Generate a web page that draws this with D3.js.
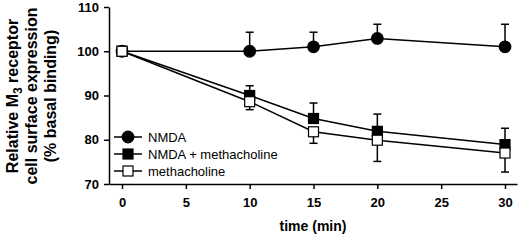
<!DOCTYPE html>
<html>
<head>
<meta charset="utf-8">
<script src="https://cdn.jsdelivr.net/npm/d3@7"></script>
<style>
  body { margin: 0; background: #fff; }
  text { font-family: Arial, "Liberation Sans", sans-serif; }
</style>
</head>
<body>
<div id="chart"></div>
<script>
const W = 520, H = 240;
const margin = { left: 109, right: 3, top: 7, bottom: 56 };

const times = [0, 10, 15, 20, 30];
const nmda = [100, 100, 101, 102.9, 101];
const nmdaErr = [0, 4.3, 3.3, 3.2, 5.1];
const nmdaMetha = [100, 90, 84.8, 81.9, 78.9];
const nmdaMethaErr = [0, 2.2, 3.5, 3.9, 3.7];
const metha = [100, 88.6, 81.8, 79.9, 77];
const methaErr = [0, 1.8, 2.6, 4.8, 4.3];

const xTicks = [0, 5, 10, 15, 20, 25, 30];
const yTicks = [70, 80, 90, 100, 110];

const series = [
  { name: "NMDA", values: nmda, err: nmdaErr, dir: -1, shape: "circle", fill: "#000" },
  { name: "NMDA + methacholine", values: nmdaMetha, err: nmdaMethaErr, dir: -1, shape: "square", fill: "#000" },
  { name: "methacholine", values: metha, err: methaErr, dir: 1, shape: "square", fill: "#fff" },
];

const svg = d3.select("#chart").append("svg")
  .attr("width", W).attr("height", H);

const x = d3.scaleLinear().domain([-1.02, 30.94]).range([margin.left, W - margin.right]);
const y = d3.scaleLinear().domain([70, 110]).range([H - margin.bottom, margin.top]);

// axes
const xAxis = svg.append("g")
  .attr("transform", `translate(0,${H - margin.bottom})`)
  .call(d3.axisBottom(x).tickValues(xTicks).tickSize(5).tickSizeOuter(0).tickPadding(9));
const yAxis = svg.append("g")
  .attr("transform", `translate(${margin.left},0)`)
  .call(d3.axisLeft(y).tickValues(yTicks).tickSize(5).tickSizeOuter(0).tickPadding(5));

[xAxis, yAxis].forEach(a => {
  a.selectAll("path, line").attr("stroke", "#000").attr("stroke-width", 1.5);
  a.selectAll("text").attr("fill", "#000")
    .style("font-size", "13px").style("font-weight", "bold");
});

// axis titles
svg.append("text")
  .attr("x", 313).attr("y", 231)
  .attr("text-anchor", "middle")
  .style("font-size", "14px").style("font-weight", "bold")
  .text("time (min)");

const yTitle = svg.append("g")
  .attr("transform", "translate(0,96) rotate(-90)")
  .attr("text-anchor", "middle")
  .style("font-size", "16px").style("font-weight", "bold");
const l1 = yTitle.append("text").attr("x", 0).attr("y", 18);
l1.append("tspan").text("Relative M");
l1.append("tspan").attr("dy", 4).style("font-size", "12px").text("3");
l1.append("tspan").attr("dy", -4).text(" receptor");
yTitle.append("text").attr("x", 0).attr("y", 37).text("cell surface  expression");
yTitle.append("text").attr("x", 0).attr("y", 56).text("(% basal binding)");

const line = d3.line().x(d => x(d[0])).y(d => y(d[1]));

function drawMarker(g, shape, fill, cx, cy) {
  if (shape === "circle") {
    g.append("circle").attr("cx", cx).attr("cy", cy).attr("r", 5.8)
      .attr("fill", fill).attr("stroke", "#000").attr("stroke-width", 1.2);
  } else {
    g.append("rect").attr("x", cx - 5).attr("y", cy - 5)
      .attr("width", 10).attr("height", 10)
      .attr("fill", fill).attr("stroke", "#000").attr("stroke-width", 1.2);
  }
}

series.forEach(s => {
  const g = svg.append("g");
  const pts = times.map((t, i) => [t, s.values[i]]);
  g.append("path").attr("d", line(pts))
    .attr("fill", "none").attr("stroke", "#000").attr("stroke-width", 1.5);
  times.forEach((t, i) => {
    if (s.err[i] <= 0) return;
    const end = s.values[i] - s.dir * s.err[i];
    g.append("line")
      .attr("x1", x(t)).attr("x2", x(t))
      .attr("y1", y(s.values[i])).attr("y2", y(end))
      .attr("stroke", "#000").attr("stroke-width", 1.5);
    g.append("line")
      .attr("x1", x(t) - 4).attr("x2", x(t) + 4)
      .attr("y1", y(end)).attr("y2", y(end))
      .attr("stroke", "#000").attr("stroke-width", 1.5);
  });
  times.forEach((t, i) => drawMarker(g, s.shape, s.fill, x(t), y(s.values[i])));
});

// legend
const legend = svg.append("g");
series.forEach((s, i) => {
  const ly = 137 + i * 17;
  legend.append("line").attr("x1", 114).attr("x2", 142)
    .attr("y1", ly).attr("y2", ly)
    .attr("stroke", "#000").attr("stroke-width", 1.5);
  drawMarker(legend, s.shape, s.fill, 128, ly);
  legend.append("text").attr("x", 148).attr("y", ly + 5)
    .style("font-size", "13px")
    .text(s.name);
});
</script>
</body>
</html>
